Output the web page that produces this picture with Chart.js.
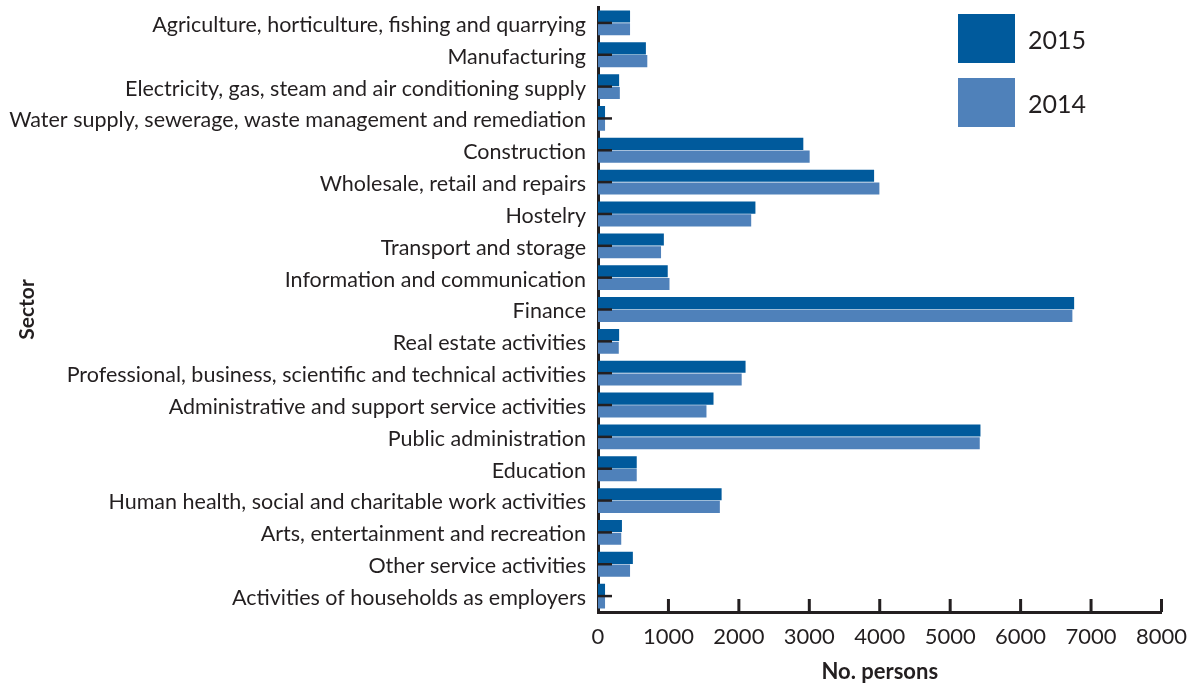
<!DOCTYPE html>
<html lang="en">
<head>
  <meta charset="UTF-8" />
  <title>Employment by sector</title>
  <script src="https://cdn.jsdelivr.net/npm/chart.js"></script>
  <style>
    html,body{margin:0;padding:0;background:#fff;}
    .wrap{position:relative;width:1199px;height:685px;}
    .legend{position:absolute;left:958px;top:14px;font-family:Lato,"Open Sans",sans-serif;font-size:25px;color:#231f20;}
    .legend .item{display:flex;align-items:center;height:49px;margin-bottom:15px;}
    .legend .sw{width:57px;height:49px;margin-right:13px;}
  </style>
</head>
<body>
  <div class="wrap">
    <canvas id="sectorChart" width="1199" height="685"></canvas>
    <div class="legend">
      <div class="item"><span class="sw" style="background:#005a9c"></span>2015</div>
      <div class="item"><span class="sw" style="background:#4f81ba"></span>2014</div>
    </div>
  </div>

  <script>
    const sectors=[
      'Agriculture, horticulture, fishing and quarrying',
      'Manufacturing',
      'Electricity, gas, steam and air conditioning supply',
      'Water supply, sewerage, waste management and remediation',
      'Construction',
      'Wholesale, retail and repairs',
      'Hostelry',
      'Transport and storage',
      'Information and communication',
      'Finance',
      'Real estate activities',
      'Professional, business, scientific and technical activities',
      'Administrative and support service activities',
      'Public administration',
      'Education',
      'Human health, social and charitable work activities',
      'Arts, entertainment and recreation',
      'Other service activities',
      'Activities of households as employers'
    ];
    const persons2015=[455,680,300,100,2915,3920,2235,935,990,6760,300,2095,1640,5430,550,1755,340,495,100];
    const persons2014=[455,700,310,100,3005,3995,2175,895,1015,6735,295,2040,1540,5420,550,1730,330,455,100];
    const xTicks=[0,1000,2000,3000,4000,5000,6000,7000,8000];

    const ink='#231f20';
    const fam='Lato, "Open Sans", sans-serif';

    // short tick marks pointing into the plot, like the original
    const innerTicks={
      id:'innerTicks',
      afterDatasetsDraw(chart){
        const {ctx,scales:{x,y},chartArea:a}=chart;
        ctx.save();
        ctx.strokeStyle=ink;
        ctx.lineWidth=2.5;
        y.ticks.forEach((t,i)=>{
          const py=y.getPixelForTick(i);
          ctx.beginPath();ctx.moveTo(a.left,py);ctx.lineTo(a.left+14,py);ctx.stroke();
        });
        ctx.lineWidth=3;
        x.ticks.forEach((t,i)=>{
          if(i===0) return;
          const px=x.getPixelForTick(i);
          ctx.beginPath();ctx.moveTo(px,a.bottom);ctx.lineTo(px,a.bottom-13);ctx.stroke();
        });
        ctx.restore();
      }
    };

    new Chart(document.getElementById('sectorChart'),{
      type:'bar',
      data:{
        labels:sectors,
        datasets:[
          {label:'2015',data:persons2015,backgroundColor:'#005a9c'},
          {label:'2014',data:persons2014,backgroundColor:'#4f81ba'}
        ]
      },
      options:{
        indexAxis:'y',
        responsive:false,
        animation:false,
        categoryPercentage:0.8,
        barPercentage:0.95,
        layout:{padding:{top:7,right:36,left:0,bottom:0}},
        plugins:{legend:{display:false},tooltip:{enabled:false}},
        scales:{
          x:{
            min:0,max:8000,
            afterBuildTicks(s){s.ticks=xTicks.map(v=>({value:v}));},
            afterFit(s){s.height=73;},
            grid:{display:false,drawTicks:false},
            border:{display:true,color:ink,width:3},
            ticks:{color:ink,padding:12,font:{family:fam,size:22},callback:v=>String(v)},
            title:{display:true,text:'No. persons',color:ink,padding:{top:0,bottom:0},
                   font:{family:fam,size:22,weight:'bold'}}
          },
          y:{
            afterFit(s){s.width=598;s.paddingTop=0;s.paddingBottom=0;},
            grid:{display:false,drawTicks:false},
            border:{display:true,color:ink,width:3},
            ticks:{color:ink,padding:12,labelOffset:2,autoSkip:false,font:{family:fam,size:21.5}},
            title:{display:true,text:'Sector',color:ink,padding:{top:15,bottom:0},
                   font:{family:fam,size:21,weight:'bold'}}
          }
        }
      },
      plugins:[innerTicks]
    });
  </script>
</body>
</html>
